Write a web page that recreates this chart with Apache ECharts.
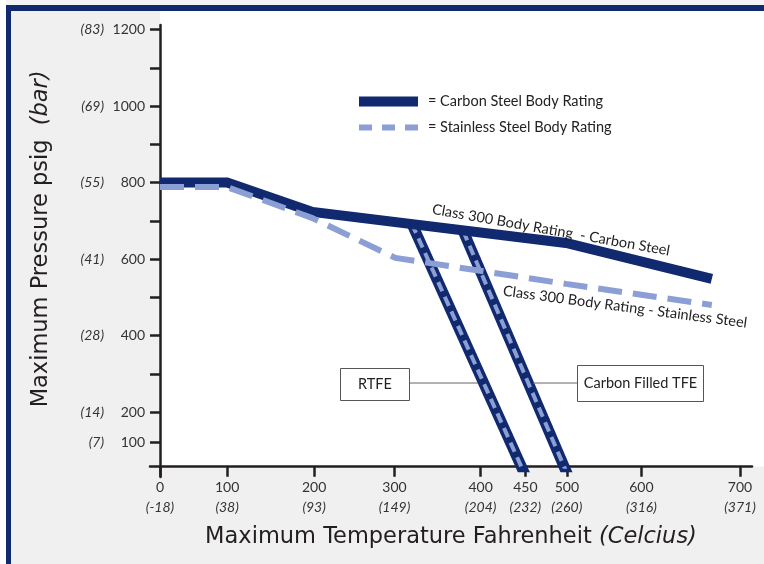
<!DOCTYPE html>
<html><head><meta charset="utf-8">
<script src="https://cdn.jsdelivr.net/npm/echarts@6/dist/echarts.min.js"></script>
<style>html,body{margin:0;padding:0;background:#fff}#c{width:764px;height:564px}</style>
</head><body><div id="c"></div>
<script>
// ---- tick labels (the original draws the temperature ticks non-uniformly;
// xTickAt is where each tick sits on the drawn scale) ----
const xTickAt = [0, 81, 186, 283, 387, 441, 491, 581, 700];
const xTickF = ['0', '100', '200', '300', '400', '450', '500', '600', '700'];
const xTickC = ['(-18)', '(38)', '(93)', '(149)', '(204)', '(232)', '(260)', '(316)', '(371)'];
const yTickAt = [120, 200, 400, 600, 800, 1000, 1200];
const yTickPsig = ['100', '200', '400', '600', '800', '1000', '1200'];
const yTickBar = ['(7)', '(14)', '(28)', '(41)', '(55)', '(69)', '(83)'];
const yMinorTicks = [300, 500, 700, 900, 1100];

// ---- series values [temperature position, psig] ----
const carbonSteel = [[0, 800], [81, 800], [184, 723], [490, 642], [666, 548]];
const stainlessSteel = [[0, 788], [81, 788], [184, 707], [284, 603], [490, 535], [666, 480]];
const rtfe = [[304, 692], [448, 0]];
const carbonFilledTfe = [[366, 673], [499, 0]];

const NAVY = '#10296f', LIGHT = '#8c9fd5', AXIS = '#231f20', TXT = '#333333';
const LBL = 'Lato, "Open Sans", sans-serif';
const TITLE = '"DejaVu Sans", sans-serif';

const chart = echarts.init(document.getElementById('c'), null, {renderer: 'canvas'});

function yLabel(v) {
  const i = yTickAt.indexOf(v);
  if (i < 0) return '';
  return '{b|' + yTickBar[i] + '}{v|' + yTickPsig[i] + '}';
}
function xLabel(v) {
  const i = xTickAt.indexOf(v);
  if (i < 0) return '';
  return '{f|' + xTickF[i] + '}\n{c|' + xTickC[i] + '}';
}

const option = {
  animation: false,
  backgroundColor: '#eff0ef',
  grid: [
    {left: 160, top: 11, right: 0, bottom: 97.3, show: true, backgroundColor: '#ffffff', borderWidth: 0, outerBoundsMode: 'none'},
    {left: 150, top: 11, right: 12, bottom: 97.3, outerBoundsMode: 'none'},
    {left: 160, top: 25, right: 0, bottom: 87, outerBoundsMode: 'none'}
  ],
  xAxis: [
    {gridIndex: 0, type: 'value', show: false, min: 0, max: 1},
    {gridIndex: 1, type: 'value', min: -12.07, max: 714.5,
      axisLine: {show: true, lineStyle: {color: AXIS, width: 2.5}},
      axisTick: {show: true, length: 10, lineStyle: {color: AXIS, width: 2.5}, customValues: xTickAt},
      splitLine: {show: false},
      axisLabel: {show: true, customValues: xTickAt, formatter: xLabel, margin: 11,
        rich: {
          f: {fontFamily: LBL, fontSize: 14, color: TXT, lineHeight: 20, align: 'center'},
          c: {fontFamily: LBL, fontSize: 14, color: TXT, lineHeight: 20, fontStyle: 'italic', align: 'center'}
        }},
      name: 'Maximum Temperature Fahrenheit {i|(Celcius)}',
      nameLocation: 'middle', nameGap: 59,
      nameTextStyle: {fontFamily: TITLE, fontSize: 22.5, color: AXIS,
        rich: {i: {fontFamily: TITLE, fontSize: 22.5, color: AXIS, fontStyle: 'italic'}}}
    },
    {gridIndex: 2, type: 'value', show: false, min: 0, max: 1}
  ],
  yAxis: [
    {gridIndex: 0, type: 'value', min: 0, max: 1,
      axisLine: {show: false}, axisTick: {show: false}, axisLabel: {show: false}, splitLine: {show: false},
      name: 'Maximum Pressure psig  {i|(bar)}', nameLocation: 'middle', nameRotate: 90, nameGap: 107,
      nameTextStyle: {fontFamily: TITLE, fontSize: 22.5, color: AXIS,
        rich: {i: {fontFamily: TITLE, fontSize: 22.5, color: AXIS, fontStyle: 'italic'}}}
    },
    {gridIndex: 1, type: 'value', show: false, min: 57.0, max: 1248.4},
    {gridIndex: 2, type: 'value', min: 30.07, max: 1211.8,
      axisLine: {show: true, lineStyle: {color: AXIS, width: 2.5}},
      axisTick: {show: true, length: 10, lineStyle: {color: AXIS, width: 2.5},
        customValues: yTickAt.concat(yMinorTicks)},
      splitLine: {show: false},
      axisLabel: {show: true, customValues: yTickAt, formatter: yLabel, margin: 15,
        rich: {
          b: {fontFamily: LBL, fontSize: 14, color: TXT, fontStyle: 'italic', width: 40, align: 'right'},
          v: {fontFamily: LBL, fontSize: 14, color: TXT, width: 41, align: 'right'}
        }}
    }
  ],
  legend: {
    orient: 'vertical', left: 354, top: 94, padding: 0, itemWidth: 59, itemHeight: 10, itemGap: 11,
    selectedMode: false, formatter: '= {name}',
    textStyle: {fontFamily: LBL, fontSize: 14.5, color: '#222222', padding: [0, 0, 0, 5]},
    data: [
      {name: 'Carbon Steel Body Rating', itemStyle: {opacity: 0}, lineStyle: {color: NAVY, width: 10, type: 'solid'}},
      {name: 'Stainless Steel Body Rating', itemStyle: {opacity: 0}, lineStyle: {color: LIGHT, width: 6, type: [13, 10]}}
    ]
  },
  series: [
    {name: 'RTFE', type: 'line', xAxisIndex: 1, yAxisIndex: 1, data: rtfe, symbol: 'none', clip: true,
      lineStyle: {color: NAVY, width: 11, cap: 'butt'}, z: 2},
    {name: 'RTFE stainless', type: 'line', xAxisIndex: 1, yAxisIndex: 1, data: rtfe, symbol: 'none', clip: true,
      lineStyle: {color: LIGHT, width: 4, type: [10, 6], cap: 'butt'}, z: 3},
    {name: 'Carbon Filled TFE', type: 'line', xAxisIndex: 1, yAxisIndex: 1, data: carbonFilledTfe, symbol: 'none', clip: true,
      lineStyle: {color: NAVY, width: 11, cap: 'butt'}, z: 2},
    {name: 'Carbon Filled TFE stainless', type: 'line', xAxisIndex: 1, yAxisIndex: 1, data: carbonFilledTfe, symbol: 'none', clip: true,
      lineStyle: {color: LIGHT, width: 4, type: [10, 6], cap: 'butt'}, z: 3},
    {name: 'Carbon Steel Body Rating', type: 'line', xAxisIndex: 1, yAxisIndex: 1, data: carbonSteel, symbol: 'none',
      color: NAVY, lineStyle: {color: NAVY, width: 10, cap: 'butt', join: 'miter'}, z: 4},
    {name: 'Stainless Steel Body Rating', type: 'line', xAxisIndex: 1, yAxisIndex: 1, data: stainlessSteel, symbol: 'none',
      color: LIGHT, lineStyle: {color: LIGHT, width: 6, type: [24, 11], cap: 'butt'}, z: 5}
  ],
  graphic: [
    {type: 'rect', z: 100, shape: {x: 0, y: 0, width: 764, height: 5}, style: {fill: '#f4f4f6'}},
    {type: 'rect', z: 100, shape: {x: 0, y: 0, width: 6, height: 564}, style: {fill: '#ffffff'}},
    {type: 'rect', z: 100, shape: {x: 6, y: 5, width: 758, height: 6}, style: {fill: NAVY}},
    {type: 'rect', z: 100, shape: {x: 6, y: 5, width: 5, height: 559}, style: {fill: NAVY}},
    {type: 'text', z: 100, x: 551, y: 230, rotation: -10 * Math.PI / 180,
      style: {text: 'Class 300 Body Rating  - Carbon Steel', fontFamily: LBL, fontSize: 14.5, fill: '#222222', align: 'center', verticalAlign: 'middle'}},
    {type: 'text', z: 100, x: 625, y: 307, rotation: -7.5 * Math.PI / 180,
      style: {text: 'Class 300 Body Rating - Stainless Steel', fontFamily: LBL, fontSize: 14.5, fill: '#222222', align: 'center', verticalAlign: 'middle'}},
    {type: 'line', z: 100, shape: {x1: 409, y1: 383, x2: 478, y2: 383}, style: {stroke: '#666666', lineWidth: 1}},
    {type: 'rect', z: 100, shape: {x: 340.5, y: 368.5, width: 69, height: 32}, style: {fill: '#ffffff', stroke: '#555555', lineWidth: 1}},
    {type: 'text', z: 101, x: 375, y: 384.5, style: {text: 'RTFE', fontFamily: LBL, fontSize: 14.5, fill: '#222222', align: 'center', verticalAlign: 'middle'}},
    {type: 'line', z: 100, shape: {x1: 533, y1: 383, x2: 577, y2: 383}, style: {stroke: '#666666', lineWidth: 1}},
    {type: 'rect', z: 100, shape: {x: 577.5, y: 365.5, width: 126, height: 36}, style: {fill: '#ffffff', stroke: '#555555', lineWidth: 1}},
    {type: 'text', z: 101, x: 640.5, y: 383.5, style: {text: 'Carbon Filled TFE', fontFamily: LBL, fontSize: 14.5, fill: '#222222', align: 'center', verticalAlign: 'middle'}}
  ]
};
chart.setOption(option);
</script></body></html>
